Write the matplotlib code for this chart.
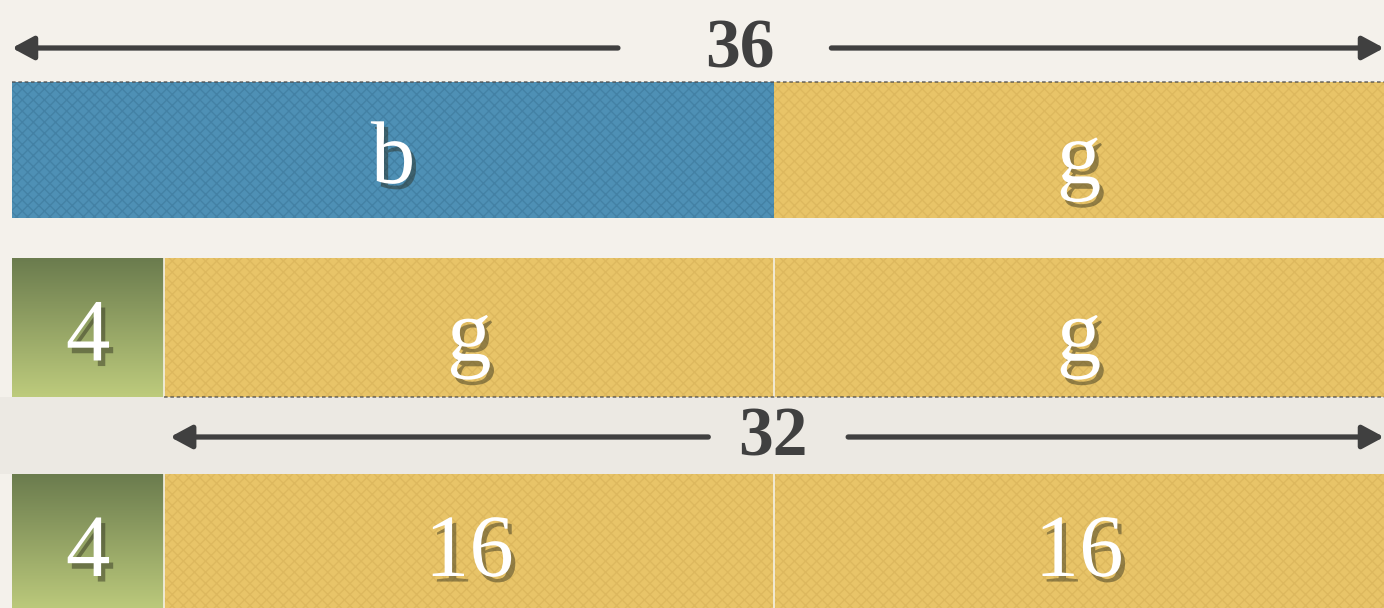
import matplotlib.pyplot as plt
import matplotlib.patheffects as pe
import numpy as np

# bar model values
row1_parts = [20, 16]
row1_labels = ['b', 'g']
row1_kinds = ['blue', 'yellow']

row2_parts = [4, 16, 16]
row2_labels = ['4', 'g', 'g']
row2_kinds = ['green', 'yellow', 'yellow']

row3_parts = [4, 16, 16]
row3_labels = ['4', '16', '16']
row3_kinds = ['green', 'yellow', 'yellow']

top_total = 36
mid_total = 32
mid_start = 4


def draw_row(ax, parts, labels, kinds, y0, y1, sep):
    colors = {'blue': '#4e90b5', 'yellow': '#e8c468', 'green': '#93a561'}
    texture = {'blue': '#2f6585', 'yellow': '#c9a24a', 'green': '#93a561'}
    lefts = np.concatenate([[0], np.cumsum(parts)[:-1]])
    yc = (y0 + y1) / 2
    h = y1 - y0
    for left, w, lab, kind in zip(lefts, parts, labels, kinds):
        if kind == 'green':
            grad = np.linspace(0, 1, 100).reshape(-1, 1)
            ax.imshow(grad, extent=(left, left + w, y1, y0), aspect='auto',
                      cmap=plt.matplotlib.colors.LinearSegmentedColormap.from_list(
                          'g', ['#6b7c4e', '#bdcb7c']), origin='upper', zorder=1)
        else:
            ax.barh(yc, w, left=left, height=h, color=colors[kind], linewidth=0, zorder=1)
            ax.barh(yc, w, left=left, height=h, facecolor='none',
                    edgecolor=texture[kind] + '55', hatch='xxx', linewidth=0, zorder=2)
        ax.text(left + w / 2, yc + 33, lab, ha='center', va='baseline', color='white',
                fontsize=64, family='Liberation Serif', zorder=5,
                path_effects=[pe.withSimplePatchShadow(offset=(3, -4), shadow_rgbFace='#2a2a1a', alpha=0.45)])
    if sep:
        for x in lefts[1:]:
            ax.plot([x, x], [y0, y1], color='#f4f1e6', lw=1.2, zorder=3)


def draw_span(ax, x0, x1, text, xt, gap_l, gap_r, y):
    kw = dict(arrowstyle='-|>,head_length=1.3,head_width=0.7', color='#404040', lw=3.8,
              shrinkA=0, shrinkB=0)
    ax.annotate('', xy=(x0, y), xytext=(xt - gap_l, y), arrowprops=kw, zorder=4)
    ax.annotate('', xy=(x1, y), xytext=(xt + gap_r, y), arrowprops=kw, zorder=4)
    ax.text(xt, y + 2, text, ha='center', va='center', fontsize=50, fontweight='bold',
            family='Liberation Serif', color='#404040', zorder=5)


def main():
    fig = plt.figure(figsize=(13.84, 6.08), dpi=100, facecolor='#f4f1eb')
    ax = fig.add_axes([0, 0, 1, 1])
    ax.set_facecolor('#f4f1eb')

    ax.axhspan(397, 474, color='#ece9e3', lw=0, zorder=0)

    draw_row(ax, row1_parts, row1_labels, row1_kinds, 82, 218, False)
    draw_row(ax, row2_parts, row2_labels, row2_kinds, 258, 397, True)
    draw_row(ax, row3_parts, row3_labels, row3_kinds, 474, 612, True)

    # dotted borders
    ax.plot([0, top_total], [82, 82], color='#4a4a4a', lw=1.3, ls=(0, (2, 1.5)), alpha=0.7, zorder=3)
    ax.plot([mid_start, top_total], [397, 397], color='#4a4a4a', lw=1.3, ls=(0, (2, 1.5)), alpha=0.7, zorder=3)

    draw_span(ax, 0, top_total, str(top_total), 19.1, 3.2, 2.4, 48)
    draw_span(ax, mid_start + 0.15, top_total, str(mid_total), 19.97, 1.7, 1.97, 437)

    ax.set_xlim(-12 / 38.15, top_total)
    ax.set_ylim(608, 0)
    ax.axis('off')
    fig.savefig('out.png', dpi=100, facecolor=fig.get_facecolor())
    plt.close(fig)


if __name__ == "__main__":
    main()
